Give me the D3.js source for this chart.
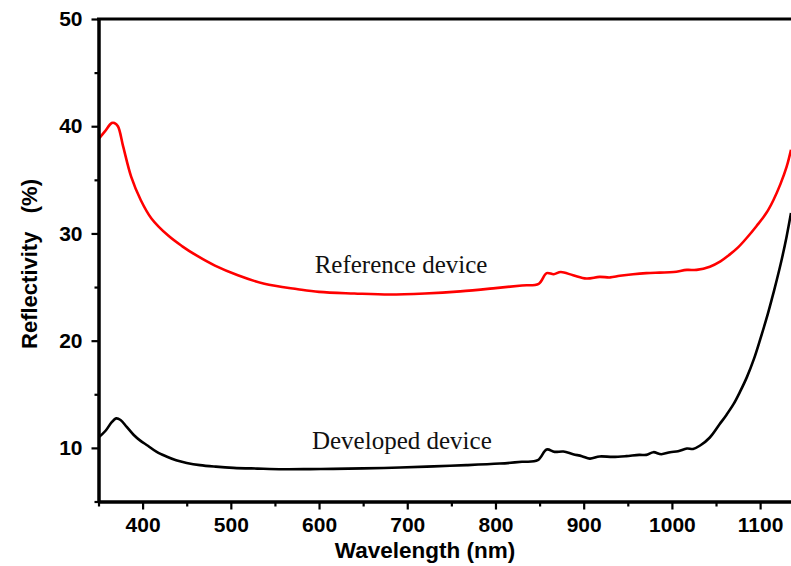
<!DOCTYPE html>
<html>
<head>
<meta charset="utf-8">
<script src="https://cdn.jsdelivr.net/npm/d3@7"></script>
<style>
  html, body { margin: 0; padding: 0; background: #fff; }
  svg { display: block; }
  .tick text { font-family: "Liberation Sans", Arial, sans-serif; font-weight: bold; }
</style>
</head>
<body>
<div id="chart"></div>
<script>
// Reference device (red)
const refWavelength = [350, 357, 365, 368, 372, 378, 387, 398, 410, 429, 445, 462, 482, 508, 538, 576, 600, 640, 680, 720, 760, 800, 830, 849,
  858, 866, 874, 888, 903, 918, 930, 941, 956, 971, 986, 1002, 1017, 1028, 1043, 1055, 1065, 1075, 1085, 1096, 1107, 1115, 1123, 1130, 1135];
const refValues = [38.8, 39.5, 40.3, 40.3, 40.0, 38.1, 35.3, 33.1, 31.4, 29.8, 28.8, 27.9, 27.0, 26.1, 25.3, 24.8, 24.55, 24.4, 24.3, 24.4, 24.6, 24.9, 25.15, 25.3,
  26.3, 26.2, 26.4, 26.1, 25.8, 25.95, 25.9, 26.05, 26.2, 26.3, 26.35, 26.4, 26.6, 26.6, 26.9, 27.4, 28.0, 28.7, 29.6, 30.7, 31.9, 33.1, 34.6, 36.2, 37.8];

// Developed device (black)
const devWavelength = [350, 358, 365, 370, 375, 382, 390, 397, 406, 416, 427, 438, 450, 465, 483, 503, 530, 559, 590, 616, 650, 692, 730, 767, 805, 830, 848,
  858, 867, 877, 888, 898, 907, 918, 933, 948, 963, 971, 979, 988, 998, 1007, 1017, 1024, 1032, 1043, 1054, 1062, 1070, 1077, 1085, 1093, 1100, 1107, 1113, 1119, 1124, 1130, 1135];
const devValues = [10.97, 11.6, 12.4, 12.75, 12.6, 11.96, 11.2, 10.7, 10.2, 9.63, 9.2, 8.85, 8.6, 8.39, 8.25, 8.14, 8.07, 8.01, 8.02, 8.04, 8.09, 8.17, 8.28, 8.39, 8.54, 8.7, 8.85,
  9.85, 9.63, 9.66, 9.41, 9.23, 9.0, 9.2, 9.16, 9.23, 9.35, 9.35, 9.6, 9.41, 9.6, 9.69, 9.94, 9.9, 10.22, 10.97, 12.2, 13.1, 14.1, 15.2, 16.6, 18.3, 20.1, 22.0, 23.8, 25.7, 27.4, 29.7, 31.9];

const xTicks = [400, 500, 600, 700, 800, 900, 1000, 1100];
const xMinorTicks = [350, 450, 550, 650, 750, 850, 950, 1050];
const yTicks = [10, 20, 30, 40, 50];
const yMinorTicks = [5, 15, 25, 35, 45];

const seriesNames = ["Reference device", "Developed device"];
const seriesColors = ["#ff0000", "#000000"];
// where each series label sits, in data units (wavelength, reflectivity)
const labelWavelength = [595, 592];
const labelValues = [26.3, 9.88];

const width = 791;
const height = 566;
const plot = {left: 98.5, right: 791, top: 19, bottom: 501.5};

const svg = d3.select("#chart")
  .append("svg")
    .attr("width", width)
    .attr("height", height);

const x = d3.scaleLinear()
  .domain([350, 1135])
  .range([plot.left, plot.right]);

const y = d3.scaleLinear()
  .domain([5, 50])
  .range([plot.bottom, plot.top]);

// curves
const series = [
  refWavelength.map((w, i) => ({w, v: refValues[i]})),
  devWavelength.map((w, i) => ({w, v: devValues[i]}))
];

const line = d3.line()
  .x(d => x(d.w))
  .y(d => y(d.v))
  .curve(d3.curveCatmullRom.alpha(0.5));

svg.append("defs").append("clipPath")
    .attr("id", "clip")
  .append("rect")
    .attr("x", plot.left)
    .attr("y", plot.top)
    .attr("width", plot.right - plot.left)
    .attr("height", plot.bottom - plot.top);

svg.append("g")
    .attr("clip-path", "url(#clip)")
  .selectAll("path")
  .data(series)
  .join("path")
    .attr("d", line)
    .attr("fill", "none")
    .attr("stroke", (d, i) => seriesColors[i])
    .attr("stroke-width", 2.6)
    .attr("stroke-linejoin", "round");

// axes
const styleAxis = g => {
  g.select(".domain").attr("stroke", "#000").attr("stroke-width", 3);
  g.selectAll(".tick line").attr("stroke", "#000").attr("stroke-width", 2.2);
  g.selectAll(".tick text").attr("fill", "#000").attr("font-size", 21);
};

svg.append("g")
    .attr("transform", `translate(0,${plot.bottom})`)
    .call(d3.axisBottom(x).tickValues(xMinorTicks).tickSize(5).tickSizeOuter(0).tickFormat(""))
    .call(styleAxis);

svg.append("g")
    .attr("transform", `translate(0,${plot.bottom})`)
    .call(d3.axisBottom(x).tickValues(xTicks).tickSize(8).tickSizeOuter(0).tickPadding(8).tickFormat(d3.format("d")))
    .call(styleAxis);

svg.append("g")
    .attr("transform", `translate(${plot.left},0)`)
    .call(d3.axisLeft(y).tickValues(yMinorTicks).tickSize(4).tickSizeOuter(0).tickFormat(""))
    .call(styleAxis);

svg.append("g")
    .attr("transform", `translate(${plot.left},0)`)
    .call(d3.axisLeft(y).tickValues(yTicks).tickSize(7).tickSizeOuter(0).tickPadding(9).tickFormat(d3.format("d")))
    .call(styleAxis);

// top frame line
svg.append("line")
    .attr("x1", plot.left - 1.5)
    .attr("x2", plot.right)
    .attr("y1", plot.top)
    .attr("y2", plot.top)
    .attr("stroke", "#000")
    .attr("stroke-width", 3);

// series labels
svg.selectAll(".series-label")
  .data(seriesNames)
  .join("text")
    .attr("class", "series-label")
    .attr("x", (d, i) => x(labelWavelength[i]))
    .attr("y", (d, i) => y(labelValues[i]))
    .attr("font-family", "'Liberation Serif', 'Times New Roman', serif")
    .attr("font-size", 25)
    .attr("fill", "#111")
    .text(d => d);

// axis titles
svg.append("text")
    .attr("x", 425)
    .attr("y", 558)
    .attr("text-anchor", "middle")
    .attr("font-family", "'Liberation Sans', Arial, sans-serif")
    .attr("font-weight", "bold")
    .attr("font-size", 22.5)
    .text("Wavelength (nm)");

svg.append("text")
    .attr("transform", "translate(37,264) rotate(-90)")
    .attr("text-anchor", "middle")
    .attr("font-family", "'Liberation Sans', Arial, sans-serif")
    .attr("font-weight", "bold")
    .attr("font-size", 22)
    .style("white-space", "pre")
    .text("Reflectivity   (%)");
</script>
</body>
</html>
